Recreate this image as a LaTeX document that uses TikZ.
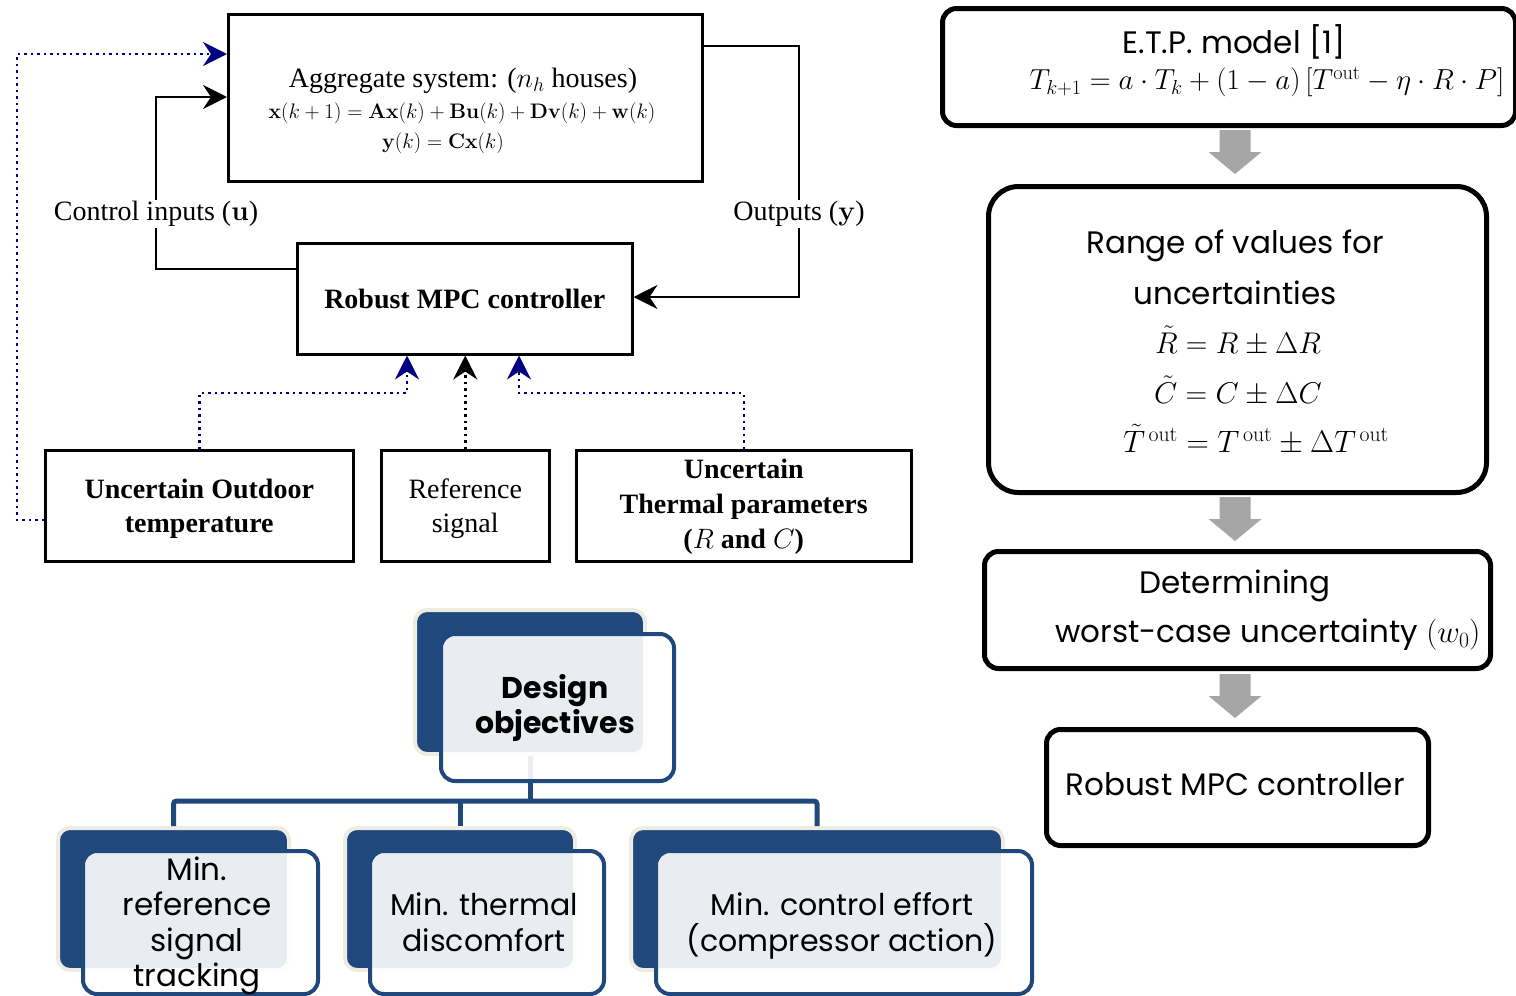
\RequirePackage{fix-cm}
\documentclass[tikz,border=0pt]{standalone}
\usepackage{amsmath}
\usepackage[no-math]{fontspec}
\setmainfont{Liberation Serif}
\newfontfamily\gothic{Poppins}
\usetikzlibrary{arrows.meta,calc}
\definecolor{navyc}{HTML}{000080}
\definecolor{sablue}{HTML}{1F497D}
\definecolor{creamc}{HTML}{EEECE1}
\definecolor{garrow}{HTML}{A6A6A6}
\newcommand\fsz[2]{\fontsize{#1}{#2}\selectfont}
\begin{document}
\begin{tikzpicture}[x=1pt,y=-1pt,
  blk/.style={draw, line width=2.5pt, inner sep=0pt, rectangle, anchor=north west},
  rbox/.style={draw, line width=5pt, rounded corners=14pt, inner sep=0pt, anchor=north west},
  tipk/.style={-{Stealth[length=24pt,width=24pt,inset=8pt]}},
  solidc/.style={line width=2.5pt, black},
  dotc/.style={line width=2.5pt, dash pattern=on 2.5pt off 4pt},
  backbox/.style={draw=creamc, fill=sablue, line width=4pt, rounded corners=12pt, inner sep=0pt, anchor=north west},
  frontbox/.style={draw=sablue, fill=white, fill opacity=0.9, line width=4pt, rounded corners=14pt, inner sep=0pt, anchor=north west},
  conn/.style={draw=sablue, line width=5pt},
  serift/.style={font=\fsz{28}{34}, align=center, inner sep=1pt},
  gtext/.style={font=\gothic\fsz{31}{35}, align=center, inner sep=0pt},
]
\useasboundingbox (0,0) rectangle (1516,996);

% ---------------- left block diagram ----------------
\node[blk, minimum width=474pt, minimum height=167pt] (agg) at (227,13) {};
\node[font=\fsz{28}{34}, inner sep=0pt] (aggt) at (463,81) {Aggregate system: ($n_h$ houses)};
\node[font=\fsz{21}{25}, inner sep=0pt] (agge) at (462,113) {$\mathbf{x}(k+1)=\mathbf{A}\mathbf{x}(k)+\mathbf{B}\mathbf{u}(k)+\mathbf{D}\mathbf{v}(k)+\mathbf{w}(k)$};
\node[font=\fsz{21}{25}, inner sep=0pt] (aggy) at (443,143) {$\mathbf{y}(k)=\mathbf{C}\mathbf{x}(k)$};

\node[blk, minimum width=335pt, minimum height=111pt, font=\bfseries\fsz{28}{34}] (mpc) at (296,242) {Robust MPC controller};

\node[blk, minimum width=308pt, minimum height=111pt] (outd) at (44,449) {};
\node[serift, font=\bfseries\fsz{28}{34}] (outdt) at ([yshift=-3pt]outd.center) {Uncertain Outdoor\\temperature};
\node[blk, minimum width=168pt, minimum height=111pt] (ref) at (380,449) {};
\node[serift] (reft) at ([yshift=-3pt]ref.center) {Reference\\signal};
\node[blk, minimum width=335pt, minimum height=111pt] (thp) at (575,449) {};
\node[serift, font=\bfseries\fsz{28}{35}] (thpt) at ([yshift=-1pt]thp.center) {Uncertain\\Thermal parameters\\($R$ and $C$)};

% solid connectors
\draw[solidc, tipk] (mpc.west |- 0,269) -- (156,269) -- (156,97) -- (agg.west |- 0,97);
\draw[solidc, tipk] (agg.east |- 0,46) -- (799,46) -- (799,297) -- (mpc.east |- 0,297);
\node[serift, fill=white] (cin) at (156,214) {Control inputs ($\mathbf{u}$)};
\node[serift, fill=white] (outl) at (799,214) {Outputs ($\mathbf{y}$)};

% dotted connectors
\draw[dotc, navyc, tipk] (outd.west |- 0,520) -- (17,520) -- (17,54) -- (agg.west |- 0,54);
\draw[dotc, navyc, tipk] (outd.north) -- (outd.north |- 0,393) -- (407,393) -- (mpc.south -| 407,0);
\draw[dotc, black, tipk] (ref.north) -- (mpc.south -| ref.north);
\draw[dotc, navyc, tipk] (thp.north) -- (thp.north |- 0,393) -- (519,393) -- (mpc.south -| 519,0);

% ---------------- right flow ----------------
\node[rbox, minimum width=573pt, minimum height=117pt] (etp) at (940,6) {};
\node[font=\gothic\fsz{31}{35}, inner sep=0pt] (etpt) at (1234,42) {E.T.P. model [1]};
\node[font=\fsz{29}{34}, inner sep=0pt] (etpe) at (1267,82) {$T_{k+1}=a\cdot T_k+(1-a)\,[T^{\mathrm{out}}-\eta\cdot R\cdot P]$};

\node[rbox, rounded corners=30pt, minimum width=498pt, minimum height=306pt] (rng) at (986,184) {};
\node[gtext] (rngt1) at (1235,246) {Range of values for};
\node[gtext] (rngt2) at (1235,293) {uncertainties};
\node[font=\fsz{30}{34}, inner sep=0pt] (rngR) at (1238,341) {$\tilde{R}=R\pm\Delta R$};
\node[font=\fsz{30}{34}, inner sep=0pt] (rngC) at (1238,391) {$\tilde{C}=C\pm\Delta C$};
\node[font=\fsz{31}{34}, inner sep=0pt] (rngT) at (1256,440) {$\tilde{T}^{\,\mathrm{out}}=T^{\,\mathrm{out}}\pm\Delta T^{\,\mathrm{out}}$};

\node[rbox, minimum width=506pt, minimum height=117pt] (det) at (982,549) {};
\node[gtext] (dett1) at (1235,586) {Determining};
\node[gtext] (dett2) at (1268,635) {worst-case uncertainty $(w_0)$};

\node[rbox, minimum width=382pt, minimum height=116pt] (rmpc) at (1044,727) {};
\node[gtext] (rmpct) at (1235,784) {Robust MPC controller};

% gray block arrows
\foreach \yy/\nm in {130/ga1, 497/ga2, 674/ga3}{
  \coordinate (\nm) at (1235,\yy);
  \fill[garrow] ($(\nm)+(-15.5,0)$) -- ++(31,0) -- ++(0,22) -- ++(11,0) -- ($(\nm)+(0,44)$)
     -- ($(\nm)+(-26.5,22)$) -- ++(11,0) -- cycle;
}

% ---------------- bottom hierarchy ----------------
\node[backbox, minimum width=230pt, minimum height=144pt] (dback) at (413,608) {};
\node[backbox, minimum width=231pt, minimum height=142pt] (c1back) at (56,826) {};
\node[backbox, minimum width=230pt, minimum height=142pt] (c2back) at (343,826) {};
\node[backbox, minimum width=372pt, minimum height=142pt] (c3back) at (629,826) {};

\draw[conn] (dback.south) -- (dback.south |- 0,801);
\draw[conn, rounded corners=3pt] (c1back.north) |- (c3back.north |- 0,801) -- (c3back.north);
\draw[conn] (c2back.north) -- (c2back.north |- 0,801);

\node[frontbox, minimum width=233pt, minimum height=147pt] (dfront) at (439,632) {};
\node[frontbox, minimum width=235pt, minimum height=143pt] (c1front) at (81,849) {};
\node[frontbox, minimum width=234pt, minimum height=143pt] (c2front) at (368,849) {};
\node[frontbox, minimum width=376pt, minimum height=143pt] (c3front) at (654,849) {};

\node[gtext, font=\gothic\bfseries\fsz{30}{35}] (dtext) at (555,708) {Design\\objectives};
\node[gtext, font=\gothic\fsz{31}{35.5}] (c1text) at (197,926) {Min.\\reference\\signal\\tracking};
\node[gtext, font=\gothic\fsz{30}{36}] (c2text) at (484,922) {Min. thermal\\discomfort};
\node[gtext, font=\gothic\fsz{30}{36}] (c3text) at (842,926) {Min. control effort\\(compressor action)};
\end{tikzpicture}
\end{document}
